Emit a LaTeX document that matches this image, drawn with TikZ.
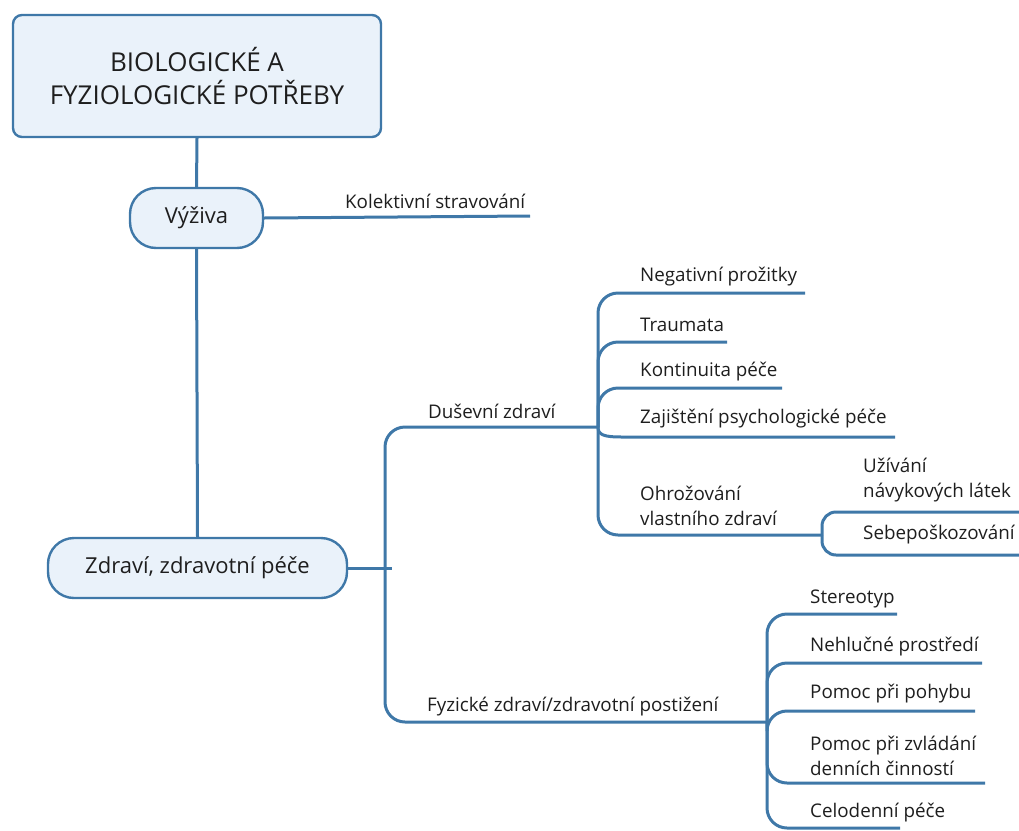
\documentclass[tikz,border=0pt]{standalone}
\usepackage{fontspec}
\setmainfont{Open Sans}
\definecolor{lineblue}{HTML}{3F78A8}
\definecolor{boxfill}{HTML}{EAF2FA}
\definecolor{ink}{HTML}{1E1E1E}
\begin{document}
\begin{tikzpicture}[x=1pt,y=-1pt,
  conn/.style={draw=lineblue, line width=3pt},
  rootbox/.style={draw=lineblue, fill=boxfill, line width=2.4pt, rounded corners=9pt,
    text=ink, align=center, font=\fontsize{26}{33}\selectfont},
  pill/.style={draw=lineblue, fill=boxfill, line width=2.4pt, rounded corners=26pt,
    text=ink, font=\fontsize{22}{26}\selectfont},
  leaf/.style={anchor=west, inner sep=0pt, text=ink, align=left,
    font=\fontsize{18.8}{25}\selectfont}]
\useasboundingbox (0,0) rectangle (1019,830);

% main topic and the two central topics
\node[rootbox, minimum width=368pt, minimum height=122pt] (root) at (197,76)
  {BIOLOGICKÉ A\\FYZIOLOGICKÉ POTŘEBY};
\node[pill, minimum width=133pt, minimum height=60pt] (vyziva) at (196.5,218) {Výživa};
\node[pill, minimum width=299pt, minimum height=60pt] (zdravi) at (197.5,568) {Zdraví, zdravotní péče};

% junctions and free ends of the branch lines
\coordinate (jM) at (385,568);
\coordinate (jD) at (598,427);
\coordinate (jF) at (767,722);
\coordinate (jO) at (822,535);
\coordinate (eKol) at (530,216);
\coordinate (eNeg) at (805,293);
\coordinate (eTra) at (727,342);
\coordinate (eKon) at (782,388);
\coordinate (eZaj) at (895,437);
\coordinate (eUz) at (1019,512);
\coordinate (eSeb) at (1019,555);
\coordinate (eSte) at (897,614);
\coordinate (eNeh) at (982,663);
\coordinate (ePoh) at (975,711);
\coordinate (eZvl) at (985,783);
\coordinate (eCel) at (900,828);

% trunk
\draw[conn] (root.south) -- (vyziva.north);
\draw[conn] (vyziva.south) -- (zdravi.north);
\draw[conn] (vyziva.east) -- (eKol);
\draw[conn] (zdravi.east) -- (jM) -- ++(7,0);
\draw[conn, rounded corners=20pt] (jM) |- (jD);
\draw[conn, rounded corners=20pt] (jM) |- (jF);

% mental health branch
\draw[conn, rounded corners=20pt] (jD) |- (eNeg);
\draw[conn, rounded corners=20pt] (jD) |- (eTra);
\draw[conn, rounded corners=20pt] (jD) |- (eKon);
\draw[conn] (jD) .. controls (598,435) and (604,437) .. (622,437) -- (eZaj);
\draw[conn, rounded corners=20pt] (jD) |- (jO);
\draw[conn, rounded corners=14pt] (jO) |- (eUz);
\draw[conn, rounded corners=14pt] (jO) |- (eSeb);

% physical health branch
\draw[conn, rounded corners=20pt] (jF) |- (eSte);
\draw[conn, rounded corners=20pt] (jF) |- (eNeh);
\draw[conn, rounded corners=20pt] (jF) |- (ePoh);
\draw[conn, rounded corners=20pt] (jF) |- (eZvl);
\draw[conn, rounded corners=20pt] (jF) |- (eCel);

% labels
\node[leaf] (kol) at (345,201) {Kolektivní stravování};
\node[leaf] (dus) at (428,411) {Duševní zdraví};
\node[leaf] (neg) at (640,277) {Negativní prožitky};
\node[leaf] (tra) at (640,325) {Traumata};
\node[leaf] (kon) at (640,372) {Kontinuita péče};
\node[leaf] (zaj) at (640,419) {Zajištění psychologické péče};
\node[leaf] (ohr) at (640,505.5) {Ohrožování\\vlastního zdraví};
\node[leaf] (uzi) at (863,480.5) {Užívání\\návykových látek};
\node[leaf] (seb) at (863,535) {Sebepoškozování};
\node[leaf] (fyz) at (427,707) {Fyzické zdraví/zdravotní postižení};
\node[leaf] (ste) at (810,599) {Stereotyp};
\node[leaf] (neh) at (810,647) {Nehlučné prostředí};
\node[leaf] (poh) at (810,694) {Pomoc při pohybu};
\node[leaf] (zvl) at (810,756) {Pomoc při zvládání\\denních činností};
\node[leaf] (cel) at (810,813) {Celodenní péče};
\end{tikzpicture}
\end{document}
